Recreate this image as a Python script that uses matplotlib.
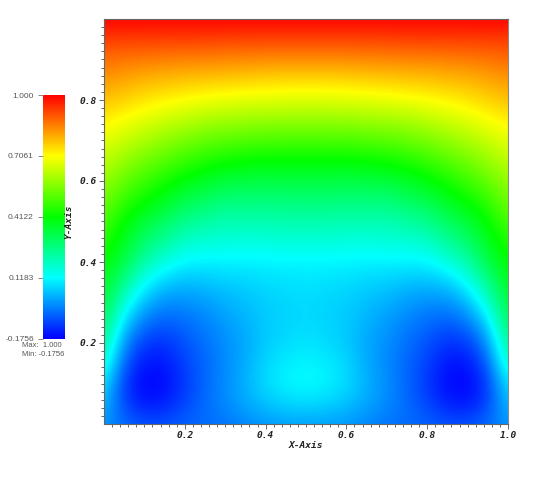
import matplotlib
matplotlib.use('Agg')
import matplotlib.pyplot as plt
import numpy as np
from matplotlib.colors import LinearSegmentedColormap, Normalize

# one list per x position (0, 0.05 ... 0.5), each from y = 0 to y = 1 in steps of 0.05
col_000 = [0.0, .05, .10, .19, .25, .31, .35, .385, .412, .457, .501, .546, .590, .635, .679, .725, .775, .825, .875, .93, 1]
col_005 = [-.05, -.10, -.11, -.07, -.01, .07, .16, .25, .33, .375, .412, .47, .527, .585, .643, .70, .757, .81, .865, .93, 1]
col_010 = [-.08, -.15, -.175, -.155, -.11, -.04, .04, .125, .215, .285, .35, .418, .482, .546, .61, .674, .735, .79, .86, .93, 1]
col_015 = [-.08, -.14, -.165, -.15, -.12, -.07, -.01, .06, .155, .235, .305, .375, .44, .51, .58, .65, .72, .785, .855, .93, 1]
col_020 = [-.06, -.095, -.11, -.10, -.08, -.05, -.01, .045, .11, .18, .25, .325, .40, .477, .553, .63, .706, .775, .85, .93, 1]
col_025 = [-.05, -.05, -.055, -.055, -.045, -.025, .005, .05, .105, .165, .23, .30, .37, .45, .53, .61, .695, .77, .85, .93, 1]
col_030 = [-.04, -.015, -.01, -.015, -.01, .005, .03, .065, .105, .16, .21, .27, .345, .43, .515, .60, .686, .765, .845, .925, 1]
col_035 = [-.02, .02, .03, .025, .02, .03, .045, .07, .105, .155, .21, .275, .34, .42, .507, .594, .68, .76, .845, .925, 1]
col_040 = [.0, .05, .08, .075, .06, .06, .065, .08, .108, .155, .21, .27, .335, .412, .50, .587, .675, .755, .84, .925, 1]
col_045 = [.01, .07, .11, .10, .08, .07, .07, .085, .11, .16, .215, .275, .34, .412, .498, .585, .672, .752, .84, .925, 1]
col_050 = [.01, .08, .118, .11, .09, .08, .08, .09, .11, .16, .215, .275, .34, .412, .498, .585, .672, .752, .84, .925, 1]

colorbar_ticks = [-0.1756, 0.1183, 0.4122, 0.7061, 1.0]
colorbar_labels = ['-0.1756', '0.1183', '0.4122', '0.7061', '1.000']
ticks = [0.2, 0.4, 0.6, 0.8, 1.0]

half = np.array([col_000, col_005, col_010, col_015, col_020, col_025,
                 col_030, col_035, col_040, col_045, col_050]).T
# the field is mirrored around x = 0.5
field = np.hstack([half, half[:, -2::-1]])

rainbow = LinearSegmentedColormap.from_list('rainbow_vis', ['#0000ff', '#00ffff', '#00ff00', '#ffff00', '#ff0000'], N=512)
norm = Normalize(vmin=-0.1756, vmax=1.0)

W, H = 538, 494
fig = plt.figure(figsize=(W / 100, H / 100), dpi=100)

ax = fig.add_axes([104 / W, 1 - 424 / H, 404 / W, 405 / H])
ax.imshow(field, origin='lower', extent=(-.025, 1.025, -.025, 1.025), aspect='auto', cmap=rainbow, norm=norm,
          interpolation='bicubic', interpolation_stage='data')
ax.set_xlim(0, 1)
ax.set_ylim(0, 1)

mono = dict(family='DejaVu Sans Mono', weight='bold', style='oblique', size=6.8, color='#222222')
ax.set_xticks(ticks)
ax.set_xticklabels(['%.1f' % t for t in ticks], **mono)
ax.set_yticks(ticks[:-1])
ax.set_yticklabels(['%.1f' % t for t in ticks[:-1]], **mono)
ax.set_xticks(np.arange(0.02, 1.0, 0.02), minor=True)
ax.set_yticks(np.arange(0.02, 1.0, 0.02), minor=True)
ax.tick_params(which='major', length=3.5, width=0.7, color='#666666', pad=1.5)
ax.tick_params(which='minor', length=2.2, width=0.7, color='#666666')
for s in ax.spines.values():
    s.set_linewidth(0.8)
    s.set_color('#666666')
ax.spines['right'].set_color('#888888')

fig.text(306 / W, 1 - 445 / H, 'X-Axis', ha='center', va='center', **mono)
fig.text(69 / W, 1 - 222 / H, 'Y-Axis', ha='center', va='center', rotation=90, **mono)

cax = fig.add_axes([43 / W, 1 - 338.5 / H, 22 / W, 243.5 / H])
sm = plt.cm.ScalarMappable(norm=norm, cmap=rainbow)
cb = fig.colorbar(sm, cax=cax, ticks=colorbar_ticks)
cb.outline.set_visible(False)
cax.yaxis.set_ticks_position('left')
cax.set_yticks(colorbar_ticks)
cax.set_yticklabels(colorbar_labels, family='Liberation Sans', size=6.0, color='#555555')
cax.tick_params(length=3.6, width=0.7, color='#888888', pad=3)

fig.text(22 / W, 1 - 345.5 / H, 'Max:  1.000', ha='left', va='center', family='Liberation Sans', size=5.5, color='#555555')
fig.text(22 / W, 1 - 354.5 / H, 'Min: -0.1756', ha='left', va='center', family='Liberation Sans', size=5.5, color='#555555')

fig.savefig('out.png', dpi=100)
